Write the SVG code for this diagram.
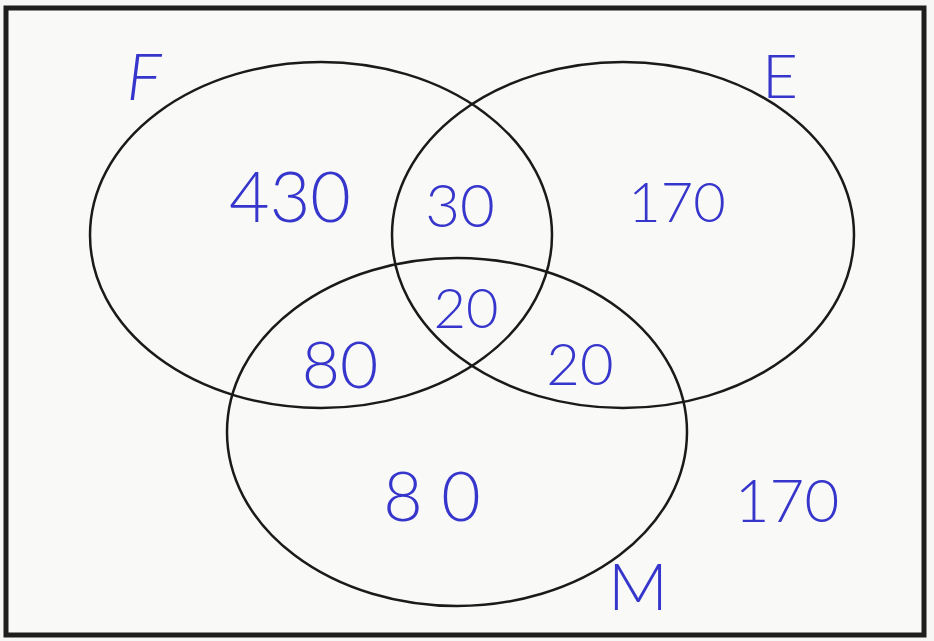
<svg xmlns="http://www.w3.org/2000/svg" width="934" height="641" viewBox="0 0 934 641">
<style>
.set{fill:none;stroke:#1a1a1a;stroke-width:2.5}
.num{font-family:Lato,"Open Sans","Liberation Sans",sans-serif;font-weight:300;fill:#3636cc;text-anchor:middle}
</style>
<rect x="0" y="0" width="934" height="641" fill="#f7f7f5"/>
<rect x="6" y="8" width="918" height="627" fill="#f9f9f7" stroke="#1e1e1e" stroke-width="5"/>
<g id="connectors"></g>
<g id="setF"><ellipse class="set" cx="321" cy="235" rx="231" ry="173"/><text class="num" x="144" y="100" font-size="66" font-style="italic">F</text></g>
<g id="setE"><ellipse class="set" cx="623" cy="235" rx="231" ry="173"/><text class="num" x="780" y="98" font-size="62">E</text></g>
<g id="setM"><ellipse class="set" cx="457" cy="432" rx="230" ry="174"/><text class="num" x="638" y="610" font-size="66">M</text></g>
<g id="regions">
<text class="num" x="290" y="222" font-size="70">430</text>
<text class="num" x="460" y="227" font-size="60">30</text>
<text class="num" x="677" y="222" font-size="56">170</text>
<text class="num" x="466" y="328" font-size="56">20</text>
<text class="num" x="340" y="388" font-size="66">80</text>
<text class="num" x="580" y="385" font-size="58">20</text>
<text class="num" x="432" y="521" font-size="68">8 0</text>
<text class="num" x="787" y="522" font-size="60">170</text>
</g>
</svg>
